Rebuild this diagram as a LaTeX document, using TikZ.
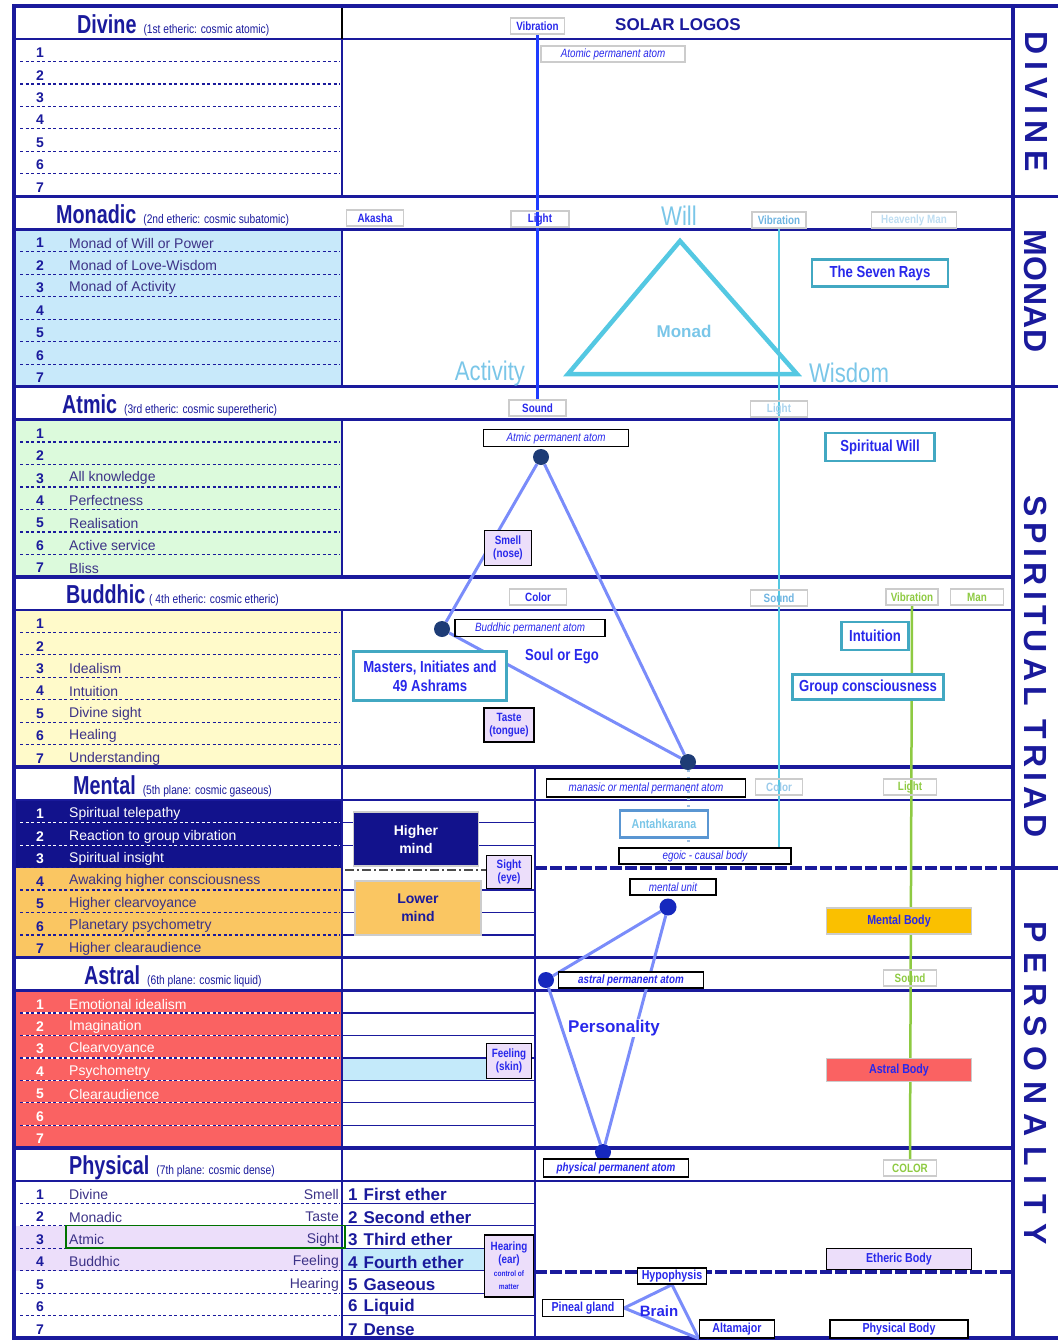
\documentclass[tikz,border=0pt]{standalone}
\usepackage{fontspec}
\setmainfont{Liberation Sans}
\newfontfamily\nfont[FakeStretch=0.82]{Liberation Sans}
\newfontfamily\hfont[FakeStretch=0.76]{Liberation Sans}
\usetikzlibrary{positioning}

\definecolor{navy}{RGB}{26,26,156}
\definecolor{rowtext}{RGB}{60,50,135}
\definecolor{monfill}{RGB}{200,233,250}
\definecolor{atmfill}{RGB}{220,250,220}
\definecolor{budfill}{RGB}{255,250,202}
\definecolor{himfill}{RGB}{18,18,140}
\definecolor{lomfill}{RGB}{250,198,98}
\definecolor{astfill}{RGB}{250,98,98}
\definecolor{lavfill}{RGB}{236,222,250}
\definecolor{skyfill}{RGB}{196,234,250}
\definecolor{vibblue}{RGB}{30,60,255}
\definecolor{cyanline}{RGB}{84,200,226}
\definecolor{greenline}{RGB}{142,202,66}
\definecolor{periwinkle}{RGB}{122,140,250}
\definecolor{dotslate}{RGB}{30,60,118}
\definecolor{dotblue}{RGB}{22,40,190}
\definecolor{labblue}{RGB}{40,40,235}
\definecolor{tealedge}{RGB}{66,168,194}
\definecolor{paleblue}{RGB}{122,198,232}
\definecolor{cyantext}{RGB}{110,180,225}
\definecolor{steelblue}{RGB}{90,150,210}
\definecolor{mbodyfill}{RGB}{250,192,0}

\pgfdeclarelayer{back}
\pgfdeclarelayer{mid}
\pgfsetlayers{back,mid,main}

\begin{document}
\begin{tikzpicture}[x=1pt,y=-1pt,
frame/.style={navy, line width=3.5pt},
hline/.style={navy, line width=2.5pt},
thinline/.style={navy, line width=1.2pt},
rowdash/.style={navy, line width=1.2pt, dash pattern=on 3pt off 2.5pt},
egoline/.style={navy, line width=3.5pt, dash pattern=on 12pt off 3pt},
tagbox/.style={rectangle, draw=gray!40, line width=1.2pt, text=labblue, font=\nfont\bfseries\fontsize{12}{14}\selectfont, minimum height=16pt, inner sep=1pt},
atombox/.style={rectangle, draw=black, line width=1.3pt, text=labblue, font=\nfont\itshape\fontsize{12}{14}\selectfont, minimum height=17pt, inner sep=1pt},
namebox/.style={rectangle, draw=black, line width=1.3pt, fill=white, text=labblue, font=\nfont\bfseries\fontsize{13}{15}\selectfont, minimum height=17pt, inner sep=1pt},
sensebox/.style={rectangle, draw=black, line width=1.5pt, fill=lavfill, text=labblue, font=\nfont\bfseries\fontsize{12}{13}\selectfont, align=center, inner sep=1pt},
tealbox/.style={rectangle, draw=tealedge, line width=2.5pt, fill=white, text=labblue, font=\nfont\bfseries\fontsize{16}{19}\selectfont, align=center, inner sep=2pt},
bodybox/.style={rectangle, draw=gray!40, line width=1.2pt, text=labblue, font=\nfont\bfseries\fontsize{13}{15}\selectfont, minimum width=145pt, inner sep=1pt},
mindbox/.style={rectangle, draw=gray!40, line width=1.2pt, font=\bfseries\fontsize{14}{18}\selectfont, align=center, minimum width=125pt, minimum height=54pt},
atomdot/.style={circle, fill=dotslate, minimum size=16pt, inner sep=0pt},
numtxt/.style={font=\bfseries\fontsize{14}{16}\selectfont, inner sep=0pt},
rowtxt/.style={anchor=west, text=rowtext, font=\fontsize{14}{16}\selectfont, inner sep=0pt},
ethtxt/.style={anchor=west, text=navy, font=\bfseries\fontsize{17}{19}\selectfont, inner sep=0pt},
hdrtxt/.style={anchor=base west, text=navy, inner sep=0pt},
bigtxt/.style={text=paleblue, font=\nfont\fontsize{27}{30}\selectfont, inner sep=0pt},
labtxt/.style={text=labblue, font=\bfseries\fontsize{16}{18}\selectfont, inner sep=1pt},
sidetxt/.style={rotate=-90, text=navy, font=\bfseries\fontsize{32}{34}\selectfont, inner sep=0pt},
tline/.style={periwinkle, line width=3pt},
]
\useasboundingbox (0,0) rectangle (1058,1341);

%Grid
\begin{pgfonlayer}{back}
\fill[monfill] (14,229.3) rectangle (342,386.6);
\fill[atmfill] (14,419.6) rectangle (342,576.9);
\fill[budfill] (14,609.9) rectangle (342,767.2);
\fill[himfill] (14,800.2) rectangle (342,867.6);
\fill[lomfill] (14,867.6) rectangle (342,957.5);
\fill[astfill] (14,990.5) rectangle (342,1147.8);
\fill[lavfill] (14,1225.7) rectangle (342,1270.7);
\fill[skyfill] (342,1057.9) rectangle (487,1080.4);
\fill[skyfill] (342,1248.2) rectangle (487,1270.7);
\foreach \s in {0,...,6}{
  \foreach \j in {1,...,7}{
    \pgfmathsetmacro\ry{41.5+190.3*\s+22.47*(\j-0.5)}
    \coordinate (num\s\j) at (40,\ry);
    \coordinate (row\s\j) at (69,\ry);
    \coordinate (rgt\s\j) at (339,\ry);
    \coordinate (mid\s\j) at (348,\ry);
  }
}
\foreach \j in {1,...,6}{\pgfmathsetmacro\ly{990.5+22.47*\j}\draw[white, line width=1.2pt] (20,\ly) -- (340,\ly);}
\foreach \s in {0,...,6}\foreach \j in {1,...,6}{\pgfmathsetmacro\ly{39+190.3*\s+22.47*\j}\draw[rowdash] (20,\ly) -- (340,\ly);}
\foreach \j in {1,2}{\pgfmathsetmacro\ly{800.2+22.47*\j}\draw[rowdash, white] (20,\ly) -- (340,\ly);}
\foreach \s/\j in {4/1,4/2,4/4,4/5,4/6,5/1,5/2,5/3,5/4,5/5,5/6,6/1,6/2,6/3,6/4,6/5,6/6}{\pgfmathsetmacro\ly{39+190.3*\s+22.47*\j}\draw[thinline] (342,\ly) -- (535,\ly);}
\draw[gray!60!black, line width=2pt, dash pattern=on 9pt off 3pt on 2pt off 3pt] (345,870) -- (487,870);
\foreach \s in {0,...,6}{\pgfmathsetmacro\hy{39+190.3*\s}\draw[hline] (14,\hy) -- (1013,\hy);}
\foreach \s in {1,...,6}{\pgfmathsetmacro\ty{6+190.3*\s}\draw[frame] (14,\ty) -- (1013,\ty);}
\foreach \s in {0,...,3}{\pgfmathsetmacro\hy{39+190.3*\s}\pgfmathsetmacro\by{6+190.3*(\s+1)}\draw[hline] (342,\hy) -- (342,\by);}
\draw[hline] (342,767.2) -- (342,1338);
\draw[black, line width=2.5pt] (342,6) -- (342,39);
\draw[hline] (535,767.2) -- (535,1338);
\draw[egoline] (535,868) -- (1013,868);
\draw[egoline] (535,1272) -- (1013,1272);
\draw[frame] (14,6) -- (1058,6);
\draw[frame] (14,1338) -- (1058,1338);
\draw[frame] (14,4.3) -- (14,1339.7);
\draw[frame] (1013,6) -- (1013,1338);
\draw[frame] (1013,196.3) -- (1058,196.3);
\draw[frame] (1013,386.6) -- (1058,386.6);
\draw[frame] (1013,868) -- (1058,868);
\end{pgfonlayer}

%Headers
\node[hdrtxt] (hdiv) at (77,33) {{\hfont\bfseries\fontsize{26}{28}\selectfont Divine}\hspace{7pt}{\nfont\fontsize{12.5}{14}\selectfont (1st etheric: cosmic atomic)}};
\node[hdrtxt] (hmon) at (56,223.3) {{\hfont\bfseries\fontsize{26}{28}\selectfont Monadic}\hspace{7pt}{\nfont\fontsize{12.5}{14}\selectfont (2nd etheric: cosmic subatomic)}};
\node[hdrtxt] (hatm) at (62,413.6) {{\hfont\bfseries\fontsize{26}{28}\selectfont Atmic}\hspace{7pt}{\nfont\fontsize{12.5}{14}\selectfont (3rd etheric: cosmic superetheric)}};
\node[hdrtxt] (hbud) at (66,603.9) {{\hfont\bfseries\fontsize{26}{28}\selectfont Buddhic}\hspace{4pt}{\nfont\fontsize{12.5}{14}\selectfont ( 4th etheric: cosmic etheric)}};
\node[hdrtxt] (hmen) at (73,794.2) {{\hfont\bfseries\fontsize{26}{28}\selectfont Mental}\hspace{7pt}{\nfont\fontsize{12.5}{14}\selectfont (5th plane: cosmic gaseous)}};
\node[hdrtxt] (hast) at (84,984.5) {{\hfont\bfseries\fontsize{26}{28}\selectfont Astral}\hspace{7pt}{\nfont\fontsize{12.5}{14}\selectfont (6th plane: cosmic liquid)}};
\node[hdrtxt] (hphy) at (69,1174.8) {{\hfont\bfseries\fontsize{26}{28}\selectfont Physical}\hspace{7pt}{\nfont\fontsize{12.5}{14}\selectfont (7th plane: cosmic dense)}};

%Numbers
\foreach \s in {0,1,2,3,6}\foreach \j in {1,...,7}\node[numtxt, text=navy] (n\s\j) at (num\s\j) {\j};
\foreach \j/\c in {1/white,2/white,3/white,4/navy,5/navy,6/navy,7/navy}\node[numtxt, text=\c] (n4\j) at (num4\j) {\j};
\foreach \j in {1,...,7}\node[numtxt, text=white] (n5\j) at (num5\j) {\j};

%Rows
\node[rowtxt] (mon1) at (row11) {Monad of Will or Power};
\node[rowtxt] (mon2) at (row12) {Monad of Love-Wisdom};
\node[rowtxt] (mon3) at (row13) {Monad of Activity};
\node[rowtxt] (atm3) at (row23) {All knowledge};
\node[rowtxt] (atm4) at (row24) {Perfectness};
\node[rowtxt] (atm5) at (row25) {Realisation};
\node[rowtxt] (atm6) at (row26) {Active service};
\node[rowtxt] (atm7) at (row27) {Bliss};
\node[rowtxt] (bud3) at (row33) {Idealism};
\node[rowtxt] (bud4) at (row34) {Intuition};
\node[rowtxt] (bud5) at (row35) {Divine sight};
\node[rowtxt] (bud6) at (row36) {Healing};
\node[rowtxt] (bud7) at (row37) {Understanding};
\node[rowtxt, text=white] (men1) at (row41) {Spiritual telepathy};
\node[rowtxt, text=white] (men2) at (row42) {Reaction to group vibration};
\node[rowtxt, text=white] (men3) at (row43) {Spiritual insight};
\node[rowtxt] (men4) at (row44) {Awaking higher consciousness};
\node[rowtxt] (men5) at (row45) {Higher clearvoyance};
\node[rowtxt] (men6) at (row46) {Planetary psychometry};
\node[rowtxt] (men7) at (row47) {Higher clearaudience};
\node[rowtxt, text=white] (ast1) at (row51) {Emotional idealism};
\node[rowtxt, text=white] (ast2) at (row52) {Imagination};
\node[rowtxt, text=white] (ast3) at (row53) {Clearvoyance};
\node[rowtxt, text=white] (ast4) at (row54) {Psychometry};
\node[rowtxt, text=white] (ast5) at (row55) {Clearaudience};
\node[rowtxt] (phy1) at (row61) {Divine};
\node[rowtxt] (phy2) at (row62) {Monadic};
\node[rowtxt] (phy3) at (row63) {Atmic};
\node[rowtxt] (phy4) at (row64) {Buddhic};
\node[rowtxt, anchor=east] (sen1) at (rgt61) {Smell};
\node[rowtxt, anchor=east] (sen2) at (rgt62) {Taste};
\node[rowtxt, anchor=east] (sen3) at (rgt63) {Sight};
\node[rowtxt, anchor=east] (sen4) at (rgt64) {Feeling};
\node[rowtxt, anchor=east] (sen5) at (rgt65) {Hearing};
\draw[green!45!black, line width=1.5pt] (66,1225.7) rectangle (345,1248.2);
\node[ethtxt] (eth1) at (mid61) {1\hspace{6pt}First ether};
\node[ethtxt] (eth2) at (mid62) {2\hspace{6pt}Second ether};
\node[ethtxt] (eth3) at (mid63) {3\hspace{6pt}Third ether};
\node[ethtxt] (eth4) at (mid64) {4\hspace{6pt}Fourth ether};
\node[ethtxt] (eth5) at (mid65) {5\hspace{6pt}Gaseous};
\node[ethtxt] (eth6) at (mid66) {6\hspace{6pt}Liquid};
\node[ethtxt] (eth7) at (mid67) {7\hspace{6pt}Dense};

%Side labels
\node[sidetxt] (sdiv) at (1036,102) {\addfontfeature{LetterSpace=21}DIVINE};
\node[sidetxt] (smon) at (1036,291) {\addfontfeature{LetterSpace=2}MONAD};
\node[sidetxt] (sspi) at (1036,667) {\addfontfeature{LetterSpace=16}SPIRITUAL TRIAD};
\node[sidetxt] (sper) at (1036,1083) {\addfontfeature{LetterSpace=30}PERSONALITY};

%Divine
\node[tagbox, minimum width=54pt] (vibD) at (537.5,26) {Vibration};
\node[text=navy, font=\bfseries\fontsize{17}{19}\selectfont] (logos) at (678,25) {SOLAR LOGOS};
\node[atombox, draw=gray!40, minimum width=144pt, minimum height=16pt] (atomic) at (613,54) {Atomic permanent atom};

%Monadic
\node[tagbox, minimum width=57pt] (akasha) at (375,218) {Akasha};
\node[tagbox, minimum width=58pt] (lightM) at (540,219) {Light};
\node[bigtxt] (will) at (679,216) {Will};
\node[tagbox, text=cyantext, minimum width=54pt] (vibM) at (779,220) {Vibration};
\node[tagbox, text=cyantext!45, minimum width=85pt] (heaven) at (914,220) {Heavenly Man};
\coordinate (willpt) at (680,241);
\coordinate (actpt) at (568,374);
\coordinate (wispt) at (797,374);
\draw[cyanline, line width=4.5pt] (willpt) -- (actpt) -- (wispt) -- cycle;
\node[text=paleblue, font=\bfseries\fontsize{17}{19}\selectfont] (monad) at (684,331) {Monad};
\node[bigtxt] (activity) at (490,374) {Activity};
\node[bigtxt] (wisdom) at (849,373) {Wisdom};
\node[tealbox, minimum width=136pt, minimum height=27pt] (rays) at (880,273) {The Seven Rays};

%Atmic
\node[tagbox, minimum width=57pt] (sndA) at (537.5,408) {Sound};
\node[tagbox, text=cyantext!60, minimum width=57pt] (lightA) at (779,409) {Light};
\node[atombox, minimum width=145pt] (atmatom) at (556,438) {Atmic permanent atom};
\node[atomdot] (atmdot) at (541,457) {};
\node[tealbox, minimum width=109pt, minimum height=28pt] (spwill) at (880,447) {Spiritual Will};
\node[sensebox, minimum width=47pt, minimum height=35pt] (smell) at (508,548) {Smell\\(nose)};

%Buddhic
\node[tagbox, minimum width=57pt] (colB) at (538,597) {Color};
\node[tagbox, text=cyantext, minimum width=57pt] (sndB) at (779,598) {Sound};
\node[tagbox, text=greenline, minimum width=52pt] (vibB) at (912,597) {Vibration};
\node[tagbox, text=greenline, minimum width=53pt] (man) at (977,597) {Man};
\node[atomdot] (buddot) at (442,629) {};
\node[atombox, minimum width=150pt] (budatom) at (530,628) {Buddhic permanent atom};
\node[labtxt] (soul) at (562,656) {\nfont Soul or Ego};
\node[tealbox, minimum width=153pt, minimum height=49pt] (masters) at (430,676) {Masters, Initiates and\\49 Ashrams};
\node[sensebox, minimum width=50pt, minimum height=34pt] (taste) at (509,725) {Taste\\(tongue)};
\node[tealbox, minimum width=67pt, minimum height=28pt] (intu) at (875,636) {Intuition};
\node[tealbox, minimum width=151pt, minimum height=25pt, inner sep=0pt] (group) at (868,687) {Group consciousness};

%Mental
\node[atomdot] (mendot) at (688,762) {};
\node[atombox, minimum width=199pt, minimum height=18pt] (manas) at (646,788) {manasic or mental permanent atom};
\node[tagbox, text=cyantext!70, minimum width=47pt] (colM) at (779,787) {Color};
\node[tagbox, text=greenline, minimum width=53pt] (lightP) at (910,787) {Light};
\node[rectangle, draw=steelblue, line width=2.5pt, fill=white, text=paleblue, font=\nfont\bfseries\fontsize{13}{15}\selectfont, minimum width=88pt, minimum height=27pt] (antah) at (664,824) {Antahkarana};
\node[atombox, fill=white, minimum width=172pt, minimum height=16pt] (egoic) at (705,856) {egoic - causal body};
\node[mindbox, fill=himfill, text=white] (higher) at (416,839) {Higher\\mind};
\node[mindbox, fill=lomfill, text=navy, minimum width=126pt] (lower) at (418,908) {Lower\\mind};
\node[sensebox, minimum width=45pt, minimum height=33pt] (sight) at (509,872) {Sight\\(eye)};
\node[atombox, fill=white, minimum width=86pt, minimum height=16pt] (munit) at (673,887) {mental unit};
\node[atomdot, fill=dotblue, minimum width=15pt, minimum height=17pt] (mudot) at (668,907) {};
\node[bodybox, fill=mbodyfill, minimum height=26pt] (mbody) at (899,921) {Mental Body};

%Astral
\node[atomdot, fill=dotblue] (astdot) at (546,980) {};
\node[atombox, fill=white, font=\nfont\bfseries\itshape\fontsize{12}{14}\selectfont, minimum width=145pt, minimum height=16pt] (astatom) at (631,980) {astral permanent atom};
\node[tagbox, text=greenline, minimum width=53pt] (sndP) at (910,978) {Sound};
\node[labtxt, fill=white, font=\bfseries\fontsize{17}{19}\selectfont] (person) at (614,1028) {Personality};
\node[sensebox, minimum width=45pt, minimum height=35pt] (feel) at (509,1061) {Feeling\\(skin)};
\node[bodybox, fill=astfill, minimum height=23pt] (abody) at (899,1070) {Astral Body};

%Physical
\node[atomdot, fill=dotblue] (phydot) at (603,1152) {};
\node[atombox, fill=white, font=\nfont\bfseries\itshape\fontsize{12}{14}\selectfont, minimum width=145pt, minimum height=18pt] (phyatom) at (616,1168) {physical permanent atom};
\node[tagbox, text=greenline, minimum width=53pt] (colP) at (910,1168) {COLOR};
\node[sensebox, minimum width=49pt, minimum height=62pt] (hear) at (509,1266) {Hearing\\(ear)\\{\fontsize{8}{8.5}\selectfont control of}\\{\fontsize{8}{8.5}\selectfont matter}};
\node[bodybox, fill=lavfill, draw=black, minimum height=21pt] (ebody) at (899,1259) {Etheric Body};
\node[namebox, minimum width=69pt, minimum height=16pt] (hypo) at (672,1276) {Hypophysis};
\node[namebox, minimum width=81pt] (pineal) at (583,1308) {Pineal gland};
\node[labtxt, font=\bfseries\fontsize{15}{17}\selectfont] (brain) at (659,1311) {Brain};
\node[namebox, minimum width=75pt, minimum height=18pt] (alta) at (737,1329) {Altamajor};
\node[namebox, minimum width=138pt, minimum height=18pt] (pbody) at (899,1329) {Physical Body};

%Lines
\begin{pgfonlayer}{mid}
\draw[vibblue, line width=2.5pt] (vibD.south) -- (sndA.north);
\draw[cyanline, line width=2.5pt] (vibM.south) -- (vibM.south |- egoic.north);
\draw[greenline, line width=2.5pt] (vibB.south) -- (colP.north);
\draw[tline] (atmdot) -- (buddot);
\draw[tline] (buddot) -- (mendot);
\draw[tline] (mendot) -- (atmdot);
\draw[steelblue!60, line width=3pt, dash pattern=on 2pt off 5pt] (mendot) -- (mendot |- egoic.north);
\draw[tline] (mudot) -- (astdot);
\draw[tline] (astdot) -- (phydot);
\draw[tline] (phydot) -- (mudot);
\draw[tline] (hypo.south) -- (pineal.east);
\draw[tline] (pineal.east) -- (alta.south west);
\draw[tline] (alta.south west) -- (hypo.south);
\end{pgfonlayer}
\end{tikzpicture}
\end{document}
